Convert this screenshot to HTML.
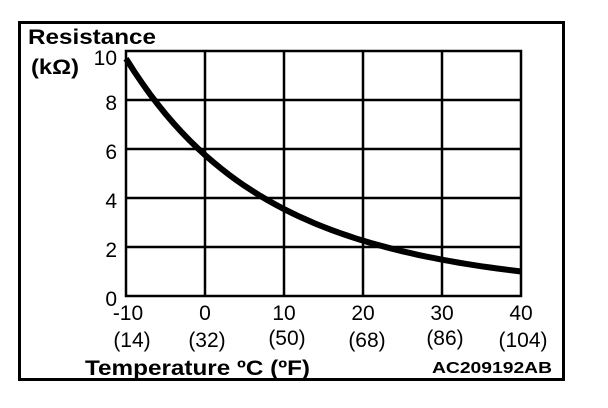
<!DOCTYPE html>
<html><head><meta charset="utf-8"><style>
html,body{margin:0;padding:0;background:#fff;width:608px;height:408px;overflow:hidden}
text{font-family:"Liberation Sans",Arial,sans-serif;fill:#000}
</style></head><body>
<svg width="608" height="408" viewBox="0 0 608 408" xmlns="http://www.w3.org/2000/svg">
<rect x="19.5" y="22.5" width="544" height="357" fill="none" stroke="#000" stroke-width="3"/>
<g stroke="#000" stroke-width="2.5" fill="none">
<rect x="126" y="51" width="395" height="245"/>
<line x1="205" y1="51" x2="205" y2="296"/>
<line x1="284" y1="51" x2="284" y2="296"/>
<line x1="363" y1="51" x2="363" y2="296"/>
<line x1="442" y1="51" x2="442" y2="296"/>
<line x1="126" y1="100" x2="521" y2="100"/>
<line x1="126" y1="149" x2="521" y2="149"/>
<line x1="126" y1="198" x2="521" y2="198"/>
<line x1="126" y1="247" x2="521" y2="247"/>
</g>
<path id="curve" fill="none" stroke="#000" stroke-width="6" stroke-linecap="butt"/>
<text x="28" y="44" font-size="21" font-weight="bold" textLength="128" lengthAdjust="spacingAndGlyphs">Resistance</text>
<text x="31" y="74" font-size="21" font-weight="bold" textLength="48" lengthAdjust="spacingAndGlyphs">(kΩ)</text>
<g font-size="21" text-anchor="end">
<text x="117" y="65">10</text>
<text x="117" y="110">8</text>
<text x="117" y="159">6</text>
<text x="117" y="208">4</text>
<text x="117" y="257">2</text>
<text x="117" y="306">0</text>
</g>
<g font-size="21" text-anchor="middle">
<text x="128" y="320">-10</text>
<text x="205" y="320">0</text>
<text x="284" y="320">10</text>
<text x="363" y="320">20</text>
<text x="442" y="320">30</text>
<text x="521" y="320">40</text>
<text x="132" y="347">(14)</text>
<text x="207" y="347">(32)</text>
<text x="287" y="345">(50)</text>
<text x="367" y="347">(68)</text>
<text x="445" y="345">(86)</text>
<text x="523" y="347">(104)</text>
</g>
<text x="85" y="375" font-size="21" font-weight="bold" textLength="225" lengthAdjust="spacingAndGlyphs">Temperature ºC (ºF)</text>
<text x="432" y="373" font-size="16" font-weight="bold" textLength="120" lengthAdjust="spacingAndGlyphs">AC209192AB</text>
</svg>
<script>
var d="";
for(var t=-10;t<=40.001;t+=1){
 var T=t+273.15;var r=1.0*Math.exp(3743*(1/T-1/313.15));
 var x=126+(t+10)*7.9, y=296-r*24.5;
 d+=(d?"L":"M")+x.toFixed(1)+","+y.toFixed(1);
}
document.getElementById("curve").setAttribute("d",d);
</script>
</body></html>
